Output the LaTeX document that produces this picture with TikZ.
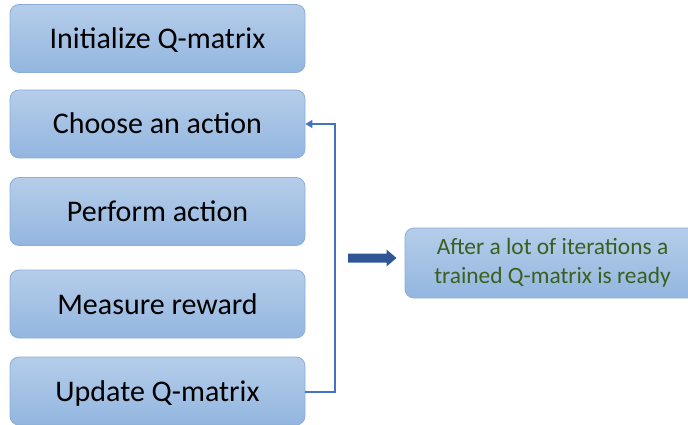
\documentclass[tikz,border=0pt]{standalone}
\usepackage{fontspec}
\setmainfont{Carlito}
\usetikzlibrary{arrows.meta}
\definecolor{boxtop}{HTML}{B5CDEA}
\definecolor{boxbot}{HTML}{93B6DF}
\definecolor{boxline}{HTML}{8AAEDB}
\definecolor{linkblue}{HTML}{4472C4}
\definecolor{bigarrow}{HTML}{2F5597}
\definecolor{notegreen}{HTML}{3A5F1F}
\begin{document}
\begin{tikzpicture}[x=1pt,y=-1pt,
  stepbox/.style={draw=boxline, line width=0.8pt, rounded corners=9pt,
    top color=boxtop, bottom color=boxbot, minimum width=295pt,
    minimum height=68pt, inner sep=0pt, text height=24pt, text depth=4pt,
    font=\fontsize{30}{36}\selectfont, text=black},
  notebox/.style={draw=boxline, line width=0.8pt, rounded corners=9pt,
    top color=boxtop, bottom color=boxbot, minimum width=295pt,
    minimum height=70pt, inner sep=0pt, align=center,
    font=\fontsize{23.4}{29.5}\selectfont, text=notegreen},
  link/.style={draw=linkblue, line width=1.8pt, -{Triangle[length=7pt,width=8pt]}}
]
\useasboundingbox (0,0) rectangle (688,425);
\clip (0,0) rectangle (688,425);
\node[stepbox] (s1) at (157.5,38.5) {Initialize Q-matrix};
\node[stepbox] (s2) at (157.5,124) {Choose an action};
\node[stepbox] (s3) at (157.5,211.5) {Perform action};
\node[stepbox] (s4) at (157.5,304) {Measure reward};
\node[stepbox] (s5) at (157.5,391) {Update Q-matrix};
\node[notebox] (note) at (552.5,263) {After a lot of iterations a\\trained Q-matrix is ready};
\coordinate (c1) at (335,392);
\coordinate (c2) at (335,124);
\draw[link] (s5.east |- c1) -- (c1) -- (c2) -- (s2.east |- c2);
\fill[bigarrow] (348,253.5) -- (386.5,253.5) -- (386.5,249.5) -- (396.5,258) -- (386.5,266.5) -- (386.5,262.5) -- (348,262.5) -- cycle;
\end{tikzpicture}
\end{document}
